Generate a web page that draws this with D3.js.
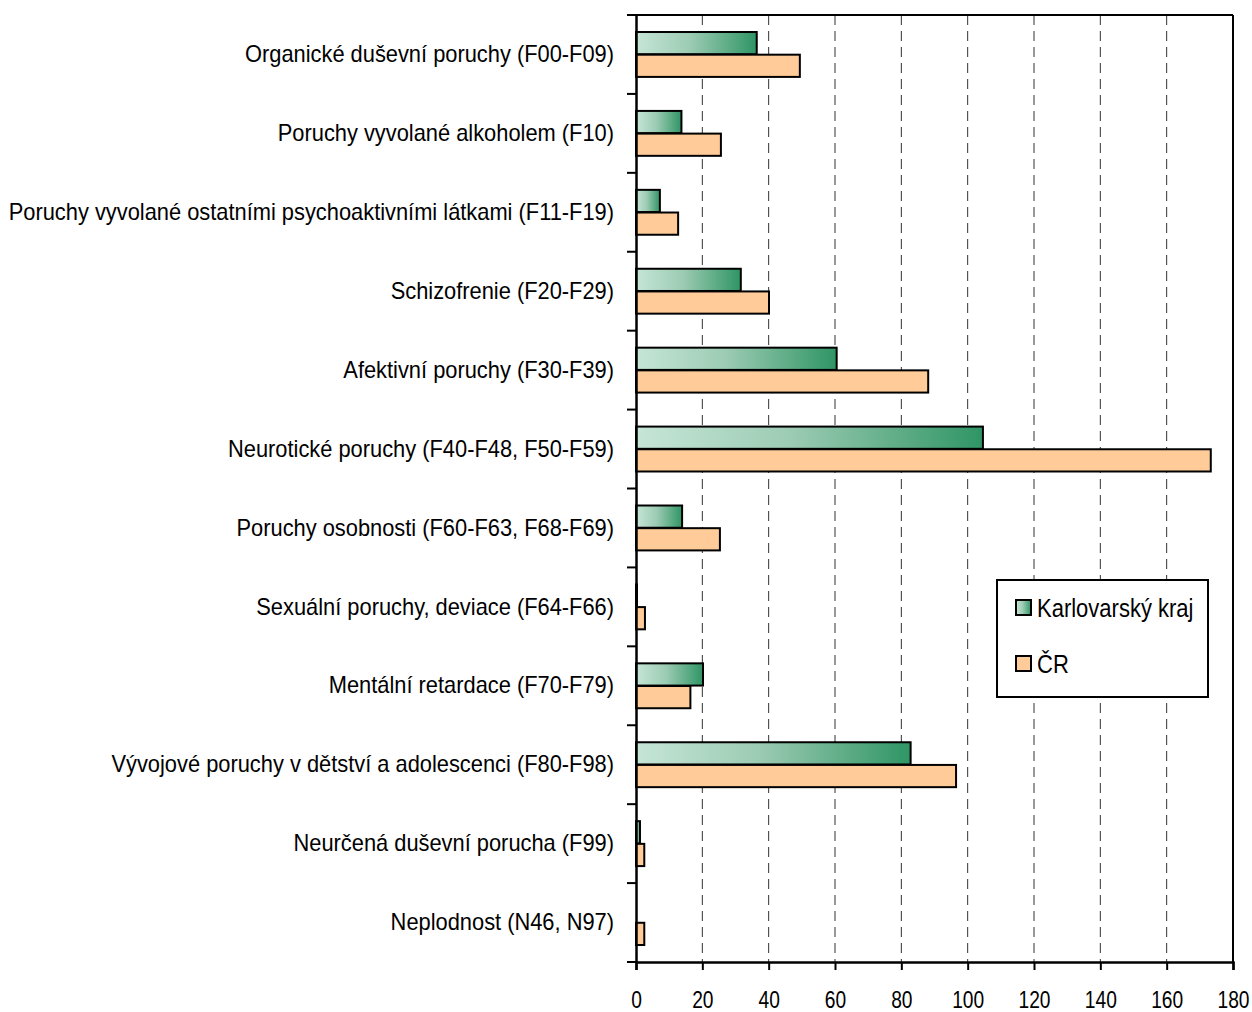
<!DOCTYPE html>
<html>
<head>
<meta charset="utf-8">
<script src="https://cdn.jsdelivr.net/npm/d3@7"></script>
<style>
  html, body { margin: 0; padding: 0; background: #fff; }
  svg { display: block; }
</style>
</head>
<body>
<svg id="chart" width="1252" height="1012"></svg>
<script>
// ── Data ────────────────────────────────────────────────────────────────────
var categories = [
  "Organické duševní poruchy (F00-F09)",
  "Poruchy vyvolané alkoholem (F10)",
  "Poruchy vyvolané ostatními psychoaktivními látkami (F11-F19)",
  "Schizofrenie (F20-F29)",
  "Afektivní poruchy (F30-F39)",
  "Neurotické poruchy (F40-F48, F50-F59)",
  "Poruchy osobnosti (F60-F63, F68-F69)",
  "Sexuální poruchy, deviace (F64-F66)",
  "Mentální retardace (F70-F79)",
  "Vývojové poruchy v dětství a adolescenci (F80-F98)",
  "Neurčená duševní porucha (F99)",
  "Neplodnost (N46, N97)"
];
var karlovarsky = [36.4, 13.7, 7.2, 31.6, 60.5, 104.6, 13.9, 0.3, 20.2, 82.8, 1.2, 0];
var cr          = [49.4, 25.6, 12.7, 40.1, 88.1, 173.3, 25.3, 2.7, 16.4, 96.5, 2.5, 2.5];
var seriesNames = ["Karlovarský kraj", "ČR"];
var xTicks = [0, 20, 40, 60, 80, 100, 120, 140, 160, 180];

(function () {
  "use strict";

  var FONT = "'Liberation Sans', Arial, sans-serif";
  var C = { orange: "#ffcc99", green0: "#c6e6d7", green1: "#2f9565", grid: "#333" };

  var left = 636, right = 1233, top = 15, bottom = 962;

  var svg = d3.select("#chart");

  var defs = svg.append("defs");
  var grad = defs.append("linearGradient")
    .attr("id", "greenGrad")
    .attr("x1", "0").attr("y1", "0").attr("x2", "1").attr("y2", "0");
  grad.append("stop").attr("offset", "0").attr("stop-color", C.green0);
  grad.append("stop").attr("offset", "0.45").attr("stop-color", "#9ccbb3");
  grad.append("stop").attr("offset", "1").attr("stop-color", C.green1);

  var x = d3.scaleLinear().domain([0, 180]).range([left, right]);
  var y = d3.scaleBand().domain(categories).range([top, bottom]).paddingInner(0).paddingOuter(0);
  var inner = d3.scaleBand().domain(seriesNames).range([0, y.bandwidth()]).paddingInner(0.02).paddingOuter(0.75);

  // squeeze text horizontally to mimic a narrow face
  function condense(factor) {
    return function (sel) {
      sel.each(function () {
        var w = this.getComputedTextLength();
        d3.select(this)
          .attr("textLength", w * factor)
          .attr("lengthAdjust", "spacingAndGlyphs");
      });
    };
  }

  // ── Gridlines ─────────────────────────────────────────────────────────────
  svg.append("g")
    .selectAll("line")
    .data(xTicks.filter(function (t) { return t > 0 && t < 180; }))
    .join("line")
    .attr("x1", function (d) { return x(d); })
    .attr("x2", function (d) { return x(d); })
    .attr("y1", top).attr("y2", bottom)
    .attr("stroke", C.grid)
    .attr("stroke-width", 1)
    .attr("stroke-dasharray", "10,6");

  // ── Bars ──────────────────────────────────────────────────────────────────
  var rows = categories.map(function (c, i) {
    return { cat: c, vals: [karlovarsky[i], cr[i]] };
  });

  var rowSel = svg.append("g")
    .selectAll("g")
    .data(rows)
    .join("g")
    .attr("transform", function (d) { return "translate(0," + y(d.cat) + ")"; });

  rowSel.selectAll("rect")
    .data(function (d) {
      return d.vals.map(function (v, j) { return { s: seriesNames[j], v: v, j: j }; })
        .filter(function (e) { return e.v > 0; });
    })
    .join("rect")
    .attr("x", x(0))
    .attr("y", function (d) { return inner(d.s); })
    .attr("width", function (d) { return Math.max(x(d.v) - x(0), 1); })
    .attr("height", inner.bandwidth())
    .attr("fill", function (d) { return d.j === 0 ? "url(#greenGrad)" : C.orange; })
    .attr("stroke", "#000")
    .attr("stroke-width", 2);

  // ── Frame (top + right) ───────────────────────────────────────────────────
  svg.append("line")
    .attr("x1", left).attr("x2", right).attr("y1", top).attr("y2", top)
    .attr("stroke", "#000").attr("stroke-width", 2);
  svg.append("line")
    .attr("x1", right).attr("x2", right).attr("y1", top).attr("y2", bottom)
    .attr("stroke", "#000").attr("stroke-width", 2);

  // ── Axes ──────────────────────────────────────────────────────────────────
  var xAxis = svg.append("g")
    .attr("transform", "translate(0," + bottom + ")")
    .call(d3.axisBottom(x).tickValues(xTicks).tickSize(8).tickPadding(21).tickFormat(d3.format("d")));
  xAxis.select(".domain").attr("stroke-width", 2.5);
  xAxis.selectAll(".tick line").attr("stroke-width", 2);
  xAxis.selectAll("text")
    .attr("font-family", FONT).attr("font-size", "24px").attr("fill", "#000")
    .call(condense(0.8));

  var yAxis = svg.append("g")
    .attr("transform", "translate(" + left + ",0)")
    .call(d3.axisLeft(y).tickSize(0).tickPadding(22));
  yAxis.select(".domain").attr("stroke-width", 2.5);
  yAxis.selectAll("text")
    .attr("font-family", FONT).attr("font-size", "24px").attr("fill", "#000")
    .call(condense(0.91));

  // category boundary ticks
  var bounds = d3.range(categories.length + 1).map(function (i) { return top + i * y.step(); });
  svg.append("g")
    .selectAll("line")
    .data(bounds)
    .join("line")
    .attr("x1", left - 9).attr("x2", left)
    .attr("y1", function (d) { return d; }).attr("y2", function (d) { return d; })
    .attr("stroke", "#000").attr("stroke-width", 2);

  // ── Legend ────────────────────────────────────────────────────────────────
  var lg = svg.append("g").attr("transform", "translate(997,580)");
  lg.append("rect")
    .attr("width", 211).attr("height", 117)
    .attr("fill", "#fff").attr("stroke", "#000").attr("stroke-width", 2);
  var items = lg.selectAll("g.item")
    .data(seriesNames)
    .join("g")
    .attr("class", "item")
    .attr("transform", function (d, i) { return "translate(19," + (28 + i * 56) + ")"; });
  items.append("rect")
    .attr("width", 15).attr("height", 15).attr("y", -8)
    .attr("fill", function (d, i) { return i === 0 ? "url(#greenGrad)" : C.orange; })
    .attr("stroke", "#000").attr("stroke-width", 2);
  items.append("text")
    .attr("x", 21).attr("y", 0).attr("dy", "0.36em")
    .attr("font-family", FONT).attr("font-size", "25px").attr("fill", "#000")
    .text(function (d) { return d; })
    .call(condense(0.88));
})();
</script>
</body>
</html>
